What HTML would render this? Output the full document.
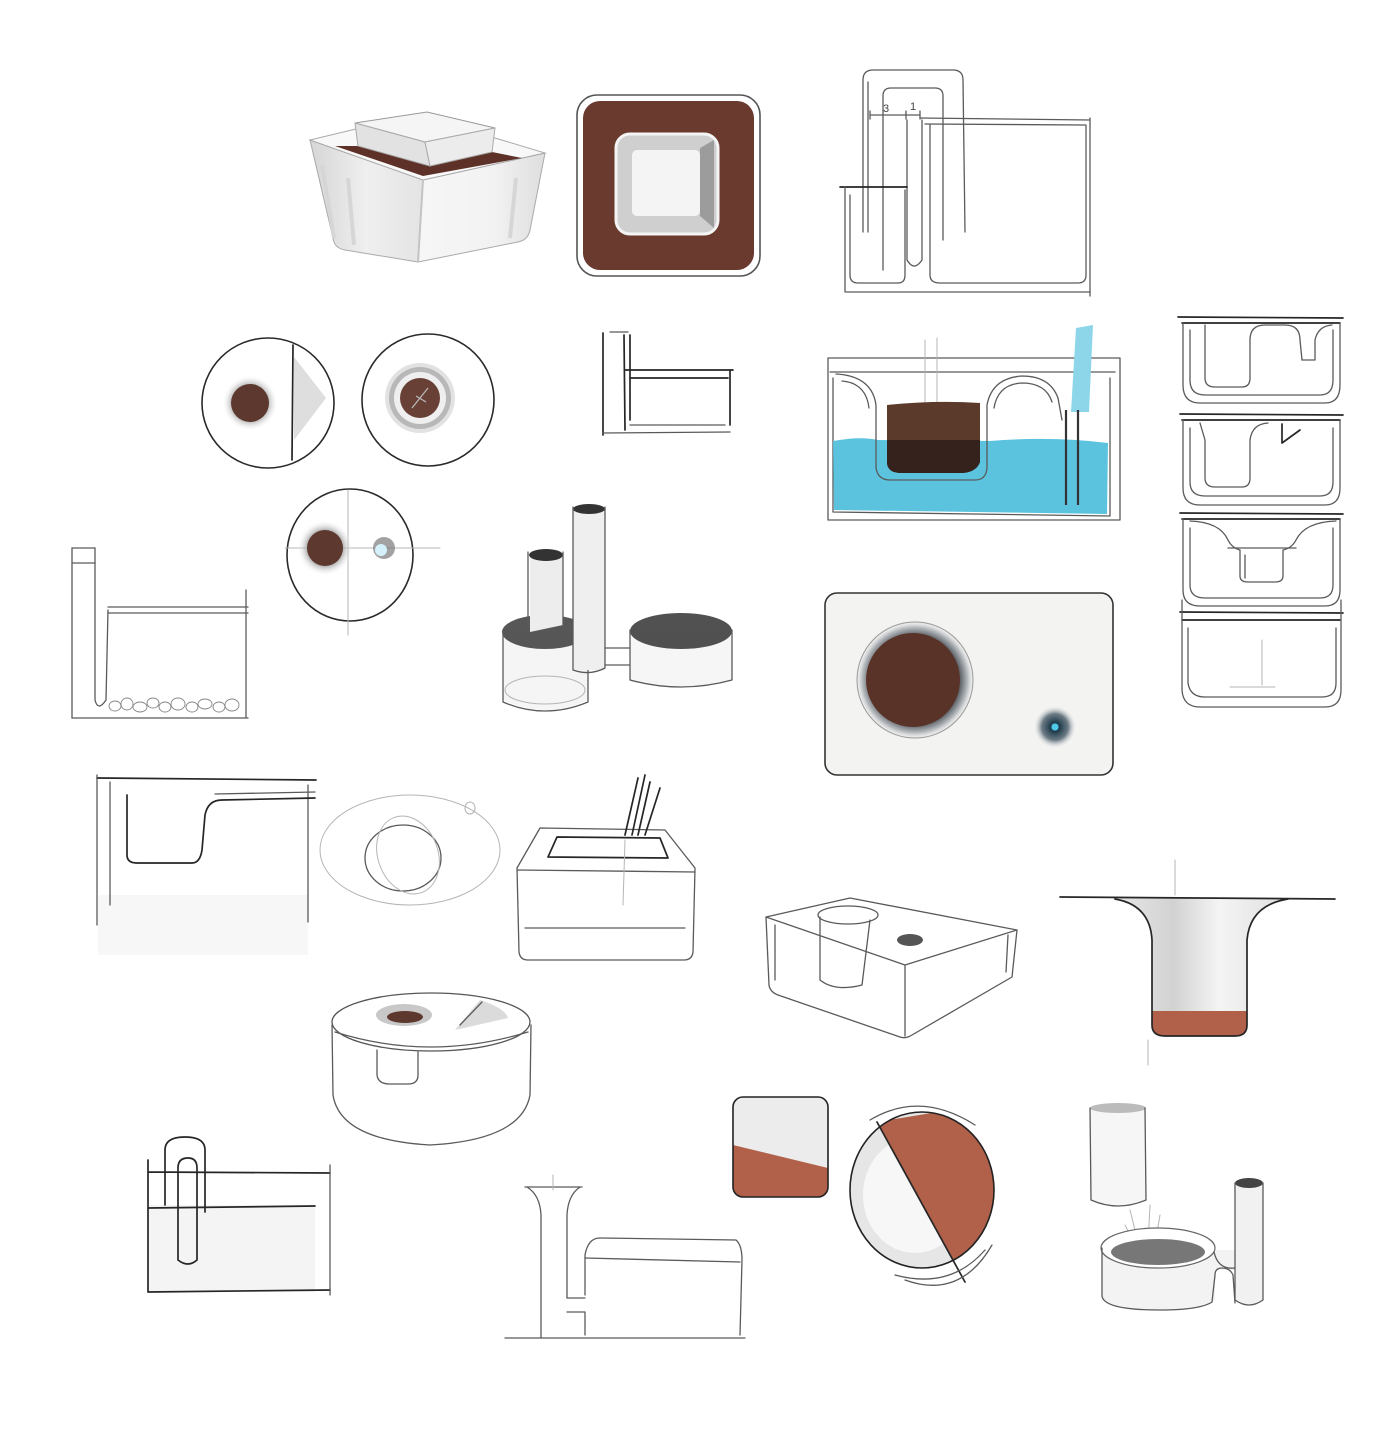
<!DOCTYPE html>
<html><head><meta charset="utf-8"><style>
html,body{margin:0;padding:0;background:#fff;}
svg{display:block;}
.p{stroke:#5a5a5a;stroke-width:1.3;fill:none;stroke-linecap:round;stroke-linejoin:round;}
.d{stroke:#262626;stroke-width:1.7;fill:none;stroke-linecap:round;stroke-linejoin:round;}
.f{stroke:#b5b5b5;stroke-width:1;fill:none;stroke-linecap:round;}
.t{font-family:"Liberation Sans",sans-serif;font-size:11px;fill:#444;}
</style></head><body>
<svg width="1400" height="1445" viewBox="0 0 1400 1445" xmlns="http://www.w3.org/2000/svg">
<defs>
<radialGradient id="halo" cx="0.5" cy="0.5" r="0.5"><stop offset="0.55" stop-color="#8a8a8a"/><stop offset="1" stop-color="#fff" stop-opacity="0"/></radialGradient>
<radialGradient id="halo2" cx="0.5" cy="0.5" r="0.5"><stop offset="0.75" stop-color="#5a6066"/><stop offset="0.88" stop-color="#b8bcc0"/><stop offset="1" stop-color="#f3f3f1" stop-opacity="0"/></radialGradient>
<radialGradient id="dot" cx="0.5" cy="0.5" r="0.5"><stop offset="0" stop-color="#3fc6ea"/><stop offset="0.2" stop-color="#1e3a4a"/><stop offset="0.6" stop-color="#6d7c86"/><stop offset="1" stop-color="#fff" stop-opacity="0"/></radialGradient>
<linearGradient id="stem" x1="0" x2="1"><stop offset="0" stop-color="#e9e9e9"/><stop offset="0.35" stop-color="#d2d2d2"/><stop offset="0.6" stop-color="#f4f4f4"/><stop offset="1" stop-color="#dedede"/></linearGradient>
<linearGradient id="face" x1="0" x2="1"><stop offset="0" stop-color="#d6d6d6"/><stop offset="0.5" stop-color="#efefef"/><stop offset="1" stop-color="#e4e4e4"/></linearGradient>
<linearGradient id="face2" x1="0" x2="1"><stop offset="0" stop-color="#f6f6f6"/><stop offset="0.6" stop-color="#f2f2f2"/><stop offset="1" stop-color="#dedede"/></linearGradient>
<clipPath id="cc"><ellipse cx="922" cy="1190" rx="72" ry="78"/></clipPath>
</defs>
<rect width="1400" height="1445" fill="#fff"/>

<!-- 1 perspective box -->
<path d="M310,140 L423,180 L418,262 L345,250 Q334,248 333,238 Z" fill="url(#face)" stroke="#aaa"/>
<path d="M423,180 L545,153 L530,230 Q528,240 518,242 L418,262 Z" fill="url(#face2)" stroke="#aaa"/>
<path d="M310,140 L360,128 L495,138 L545,153 L423,180 Z" fill="#f8f8f8" stroke="#aaa"/>
<path d="M335,146 L358,146 L430,166 L492,152 L522,158 L423,176 Z" fill="#5e3128"/>
<path d="M355,123 L427,112 L495,128 L425,142 Z" fill="#f5f5f5" stroke="#999"/>
<path d="M355,123 L425,142 L430,166 L358,146 Z" fill="#e2e2e2" stroke="#aaa"/>
<path d="M425,142 L495,128 L492,152 L430,166 Z" fill="#ececec" stroke="#aaa"/>
<path d="M322,165 L334,238 M348,178 L354,245 M516,178 L510,238" stroke="#d6d6d6" stroke-width="4" fill="none"/>
<path d="M423,180 L418,262" stroke="#c4c4c4" stroke-width="2"/>

<!-- 2 brown square -->
<rect x="577" y="95" width="183" height="181" rx="20" fill="#fff" stroke="#555" stroke-width="1.6"/>
<rect x="583" y="101" width="171" height="169" rx="17" fill="#6b3a2f"/>
<rect x="616" y="134" width="102" height="100" rx="14" fill="#cfcfcf" stroke="#f4f4f4" stroke-width="3"/>
<path d="M700,148 L714,140 L714,228 L700,216 Z" fill="#9c9c9c"/>
<rect x="632" y="150" width="68" height="66" rx="5" fill="#f4f4f4"/>

<!-- 3 top right siphon -->
<path class="p" d="M863,232 L863,80 Q863,70 873,70 L953,70 Q963,70 963,80 L965,232"/>
<path class="p" d="M868,232 L868,82"/>
<path class="p" d="M883,270 L883,96 Q883,88 891,88 L935,88 Q943,88 943,96 L943,240"/>
<path class="p" d="M907,120 L907,260 Q914,272 922,260 L922,120"/>
<path class="p" d="M920,118 L1090,120 M925,124 L1085,125"/>
<path class="p" d="M930,125 L930,275 Q930,283 940,283 L1078,283 Q1086,283 1086,275 L1086,125"/>
<path class="p" d="M1090,118 L1090,296"/>
<path class="d" d="M840,187 L907,187"/>
<path class="p" d="M845,187 L845,292 M850,195 L850,275 Q850,283 858,283 L898,283 Q905,283 905,275 L905,190"/>
<path class="p" d="M846,292 L1090,292"/>
<path class="p" d="M870,115 L920,115 M870,111 L870,119 M906,111 L906,119 M920,111 L920,119" stroke-width="1"/>
<text class="t" x="883" y="112">3</text>
<text class="t" x="910" y="110">1</text>

<!-- row 2 circles -->
<ellipse cx="268" cy="403" rx="66" ry="65" fill="#fff" stroke="#2a2a2a" stroke-width="1.6"/>
<circle cx="250" cy="403" r="28" fill="url(#halo)"/>
<circle cx="250" cy="403" r="19" fill="#5d382e"/>
<path d="M294,357 L326,398 L294,440 Z" fill="#d6d6d6" opacity="0.8"/>
<path class="d" d="M293,345 L292,460"/>

<ellipse cx="428" cy="400" rx="66" ry="66" fill="#fff" stroke="#2a2a2a" stroke-width="1.6"/>
<circle cx="420" cy="398" r="35" fill="#e2e2e2"/>
<circle cx="420" cy="398" r="31" fill="#b8b8b8"/>
<circle cx="420" cy="398" r="26" fill="#efefef"/>
<circle cx="420" cy="398" r="20" fill="#684036"/>
<path d="M412,408 L428,388 M416,396 L426,402" stroke="#bbb" stroke-width="1.2"/>

<ellipse cx="350" cy="555" rx="63" ry="66" fill="#fff" stroke="#2a2a2a" stroke-width="1.6"/>
<path class="f" d="M285,548 L440,548 M348,490 L348,635"/>
<circle cx="325" cy="548" r="28" fill="url(#halo)"/>
<circle cx="325" cy="548" r="18" fill="#5d382e"/>
<circle cx="384" cy="548" r="11" fill="#7a7a7a" opacity="0.7"/>
<circle cx="381" cy="550" r="6" fill="#d4f1fb"/>

<!-- small L sketch -->
<path class="d" d="M603,333 L603,435 M624,335 L625,430 M630,335 L630,420"/>
<path class="d" d="M625,370 L733,370 M630,378 L728,378 M730,370 L730,425"/>
<path class="p" d="M603,433 L730,432 M630,425 L725,425 M610,332 L628,332"/>

<!-- left lower tube + pebbles -->
<path class="p" d="M72,548 L95,548 M72,563 L95,563"/>
<path class="p" d="M72,548 L72,718 M95,548 L95,700 Q98,712 106,700 L108,610"/>
<path class="p" d="M108,607 L248,607 M108,613 L248,613 M246,590 L246,718 M72,718 L248,718"/>
<g fill="none" stroke="#888" stroke-width="0.9">
<ellipse cx="115" cy="706" rx="6" ry="5"/><ellipse cx="127" cy="704" rx="6" ry="6"/><ellipse cx="140" cy="707" rx="7" ry="5"/><ellipse cx="153" cy="703" rx="6" ry="5"/><ellipse cx="165" cy="707" rx="6" ry="5"/><ellipse cx="178" cy="704" rx="7" ry="6"/><ellipse cx="192" cy="707" rx="6" ry="5"/><ellipse cx="205" cy="704" rx="7" ry="5"/><ellipse cx="219" cy="707" rx="6" ry="5"/><ellipse cx="232" cy="705" rx="7" ry="6"/>
</g>

<!-- tubes / cylinders -->
<path d="M503,632 L503,700 Q545,720 588,700 L588,632 Z" fill="#f5f5f5"/>
<ellipse cx="545" cy="632" rx="43" ry="17" fill="#3a3a3a" opacity="0.85"/>
<path class="p" d="M503,632 L503,702 Q545,720 588,702 L588,632"/>
<ellipse class="f" cx="545" cy="690" rx="40" ry="14"/>
<path d="M530,555 L530,632 L563,625 L563,555 Z" fill="#ededed"/>
<ellipse cx="546" cy="555" rx="17" ry="6" fill="#333"/>
<path class="p" d="M528,552 L528,630 M563,552 L563,630"/>
<path d="M573,508 L573,670 L605,670 L605,508 Z" fill="#efefef"/>
<ellipse cx="589" cy="509" rx="16" ry="5" fill="#333"/>
<path class="p" d="M573,507 L573,670 M605,507 L605,668 M573,670 Q590,676 605,668"/>
<path class="p" d="M605,648 L630,648 M605,665 L630,665"/>
<path d="M630,630 L630,680 Q681,694 732,680 L732,630 Z" fill="#f6f6f6"/>
<ellipse cx="681" cy="631" rx="51" ry="18" fill="#333" opacity="0.85"/>
<path class="p" d="M630,630 L630,680 Q681,694 732,680 L732,630"/>

<!-- blue water sketch -->
<path class="p" d="M828,358 L1120,358 L1120,520 L828,520 Z"/>
<path class="p" d="M830,372 L1115,372 M833,378 L833,512 L1110,516 L1110,378"/>
<path d="M833,441 Q860,436 878,440 L990,441 Q1050,436 1108,443 L1107,514 L834,510 Z" fill="#5cc3df"/>
<path class="f" d="M925,340 L925,408 M937,338 L937,408"/>
<path d="M887,405 Q935,400 980,403 L980,462 Q976,473 960,473 L902,473 Q887,473 887,462 Z" fill="#5b3a2c"/>
<path d="M887,440 L980,440 L980,462 Q976,473 960,473 L902,473 Q887,473 887,462 Z" fill="#35221d"/>
<path class="p" d="M836,374 Q872,376 876,405 L876,468 Q878,480 890,480 L975,480 Q986,480 987,468 L987,405 Q992,378 1022,376 Q1050,376 1058,398 L1062,420"/>
<path class="p" d="M842,381 Q866,383 869,408 M994,408 Q998,384 1022,383 Q1046,383 1052,402"/>
<path d="M1076,328 L1093,325 L1089,412 L1071,412 Z" fill="#8dd6ea"/>
<path d="M1066,410 L1066,505 M1078,410 L1078,505" stroke="#333" stroke-width="2.2"/>

<!-- top view card -->
<rect x="825" y="593" width="288" height="182" rx="12" fill="#f3f3f1" stroke="#333" stroke-width="1.6"/>
<circle cx="915" cy="680" r="60" fill="url(#halo2)"/>
<circle cx="915" cy="680" r="58" fill="none" stroke="#999" stroke-width="1"/>
<circle cx="913" cy="680" r="47" fill="#5a3328"/>
<circle cx="1055" cy="727" r="22" fill="url(#dot)"/>
<circle cx="1055" cy="727" r="3.5" fill="#4fcaea"/>

<!-- right stack -->
<g>
<path class="d" d="M1178,317 L1343,318 M1182,323 L1340,323"/>
<path class="p" d="M1183,323 L1183,385 Q1183,403 1200,403 L1325,403 Q1340,403 1340,385 L1340,323"/>
<path class="p" d="M1190,330 L1190,380 Q1190,395 1205,395 L1320,395 Q1333,395 1333,380 L1333,330"/>
<path class="p" d="M1205,325 L1205,378 Q1205,387 1215,387 L1242,387 Q1250,387 1250,378 L1250,340 Q1250,325 1265,325 L1285,325 Q1300,325 1300,340 L1302,360 L1315,360 L1315,340 Q1318,326 1332,325"/>
<path class="d" d="M1180,414 L1343,415 M1182,420 L1340,420"/>
<path class="p" d="M1183,420 L1183,488 Q1183,505 1200,505 L1325,505 Q1340,505 1340,488 L1340,420"/>
<path class="p" d="M1190,428 L1190,482 Q1190,496 1205,496 L1320,496 Q1333,496 1333,482 L1333,428"/>
<path class="p" d="M1200,423 L1205,440 L1205,478 Q1205,487 1215,487 L1242,487 Q1250,487 1250,478 L1250,440 Q1252,424 1268,423"/>
<path class="d" d="M1282,424 L1282,443 L1300,430"/>
<path class="d" d="M1180,513 L1343,514 M1182,519 L1340,519"/>
<path class="p" d="M1183,519 L1183,590 Q1183,606 1200,606 L1325,606 Q1340,606 1340,590 L1340,519"/>
<path class="p" d="M1190,528 L1190,585 Q1190,598 1205,598 L1320,598 Q1333,598 1333,585 L1333,528"/>
<path class="p" d="M1190,521 Q1220,522 1228,540 Q1232,548 1240,550 L1240,576 Q1240,582 1248,582 L1275,582 Q1283,582 1283,576 L1283,550 Q1292,548 1296,540 Q1305,522 1336,521"/>
<path class="p" d="M1228,548 L1296,548 M1245,555 L1245,578"/>
<path class="d" d="M1180,612 L1343,613 M1182,620 L1340,620"/>
<path class="p" d="M1182,600 L1182,690 Q1183,707 1200,707 L1325,707 Q1341,707 1341,690 L1341,600"/>
<path class="p" d="M1188,628 L1188,683 Q1190,697 1205,697 L1322,697 Q1336,697 1336,683 L1336,628"/>
<path class="f" d="M1262,640 L1262,685 M1230,687 L1275,687"/>
</g>

<!-- row 4 left cup section -->
<rect x="98" y="895" width="210" height="60" fill="#f5f5f5" opacity="0.8"/>
<path class="d" d="M97,778 L316,780"/>
<path class="p" d="M97,775 L97,925 M110,782 L110,905 M308,785 L308,922"/>
<path class="d" d="M127,795 L127,855 Q127,863 137,863 L192,863 Q200,863 202,850 L205,815 Q208,800 222,800 L315,798"/>
<path class="p" d="M215,794 L315,792"/>

<!-- scribble circles -->
<ellipse class="f" cx="410" cy="850" rx="90" ry="55"/>
<ellipse class="p" cx="403" cy="858" rx="38" ry="33" stroke="#888"/>
<ellipse class="f" cx="408" cy="855" rx="30" ry="40" transform="rotate(-20 408 855)"/>
<ellipse class="f" cx="470" cy="808" rx="5" ry="6"/>

<!-- box with grass -->
<path class="p" d="M540,828 L665,830 L695,868 L693,952 Q692,960 684,960 L528,960 Q520,960 519,952 L517,868 Z"/>
<path class="d" d="M557,837 L660,838 L668,858 L548,857 Z"/>
<path class="p" d="M517,870 L695,872 M525,928 L685,928"/>
<path class="d" d="M625,835 L638,778 M632,835 L645,775 M638,835 L650,782 M645,835 L660,788"/>
<path class="f" d="M625,840 L623,905"/>

<!-- perspective box -->
<path class="p" d="M766,917 L850,898 L1017,930 L905,965 Z"/>
<path class="p" d="M766,917 L769,985 Q770,992 778,995 L900,1037 Q906,1039 912,1035 L1012,977 L1017,930"/>
<path class="p" d="M905,965 L905,1036 M775,925 L775,980 M1008,935 L1006,972"/>
<ellipse class="p" cx="848" cy="915" rx="30" ry="9"/>
<path class="p" d="M820,917 L820,980 Q835,992 862,985 L870,920"/>
<ellipse cx="910" cy="940" rx="13" ry="6" fill="#555"/>

<!-- funnel -->
<path d="M1110,898 Q1150,902 1152,940 L1152,1025 Q1152,1036 1165,1036 L1235,1036 Q1247,1036 1247,1025 L1247,940 Q1250,902 1292,898 Z" fill="url(#stem)"/>
<path d="M1152,1011 L1247,1011 L1247,1025 Q1247,1036 1235,1036 L1165,1036 Q1152,1036 1152,1025 Z" fill="#b1614a"/>
<path class="d" d="M1060,897 L1335,899"/>
<path class="d" d="M1115,899 Q1150,905 1152,940 L1152,1025 Q1152,1036 1165,1036 L1235,1036 Q1247,1036 1247,1025 L1247,940 Q1250,905 1288,899"/>
<path class="f" d="M1175,860 L1175,895 M1148,1040 L1148,1065"/>

<!-- round container -->
<path class="p" d="M332,1025 L333,1095 Q340,1140 430,1145 Q522,1140 530,1095 L531,1025"/>
<ellipse cx="431" cy="1022" rx="99" ry="29" fill="#fff" stroke="#555" stroke-width="1.3"/>
<path class="p" d="M335,1032 Q430,1062 528,1032"/>
<path class="p" d="M377,1050 L377,1075 Q378,1084 390,1084 L408,1084 Q418,1084 418,1075 L418,1052"/>
<ellipse cx="404" cy="1015" rx="28" ry="11" fill="#9a9a9a" opacity="0.55"/>
<ellipse cx="405" cy="1017" rx="18" ry="6" fill="#5d382e"/>
<path d="M455,1030 L480,1000 Q505,1008 508,1018 Z" fill="#ccc" opacity="0.7"/>
<path class="p" d="M460,1025 L482,1002"/>

<!-- bottom left siphon box -->
<rect x="149" y="1205" width="166" height="87" fill="#f4f4f4"/>
<path class="d" d="M148,1160 L148,1292 M148,1172 L330,1173 M148,1208 L315,1206 M148,1292 L330,1290"/>
<path class="p" d="M330,1165 L330,1295"/>
<path class="d" d="M165,1205 L165,1150 Q165,1137 185,1137 Q205,1137 205,1150 L205,1212"/>
<path class="d" d="M178,1260 L178,1168 Q178,1158 188,1158 Q197,1158 197,1168 L197,1260 Q188,1268 178,1260"/>

<!-- vase + box -->
<path class="p" d="M525,1187 L582,1187 M527,1187 Q540,1195 541,1215 L541,1338 M580,1187 Q568,1195 567,1215 L567,1298"/>
<path class="p" d="M567,1298 L585,1298 M567,1312 L585,1312 L585,1335"/>
<path class="p" d="M585,1295 L585,1255 Q588,1238 600,1238 L736,1240 Q742,1245 742,1260 L740,1335"/>
<path class="p" d="M585,1258 L740,1262"/>
<path class="p" d="M505,1338 L745,1338"/>
<path class="f" d="M553,1175 L553,1190"/>

<!-- copper tile -->
<rect x="733" y="1097" width="95" height="100" rx="10" fill="#ececec"/>
<path d="M733,1145 L828,1168 L828,1187 Q828,1197 818,1197 L743,1197 Q733,1197 733,1187 Z" fill="#b1614a"/>
<rect x="733" y="1097" width="95" height="100" rx="10" fill="none" stroke="#222" stroke-width="1.6"/>

<!-- copper circle -->
<ellipse cx="922" cy="1190" rx="72" ry="78" fill="#e6e6e6"/>
<ellipse cx="915" cy="1195" rx="52" ry="58" fill="#f7f7f7"/>
<path d="M877,1122 L965,1282 L1010,1282 L1010,1100 Z" fill="#b1614a" clip-path="url(#cc)"/>
<path class="d" d="M877,1122 L965,1282"/>
<ellipse cx="922" cy="1190" rx="72" ry="78" fill="none" stroke="#222" stroke-width="1.6"/>
<path class="p" d="M870,1120 Q920,1090 975,1125 M895,1275 Q950,1290 985,1250 M905,1280 Q960,1300 992,1245"/>

<!-- cylinder + bowl + tube -->
<path d="M1090,1108 L1090,1200 Q1118,1212 1146,1200 L1146,1108 Z" fill="#f6f6f6"/>
<ellipse cx="1118" cy="1108" rx="28" ry="5" fill="#bbb"/>
<path class="p" d="M1090,1108 L1091,1200 Q1118,1212 1146,1200 L1145,1108"/>
<path class="f" d="M1130,1210 L1140,1250 M1150,1205 L1148,1245 M1160,1215 L1155,1245 M1125,1225 L1140,1255"/>
<path d="M1102,1248 L1102,1296 Q1104,1310 1160,1310 Q1200,1310 1215,1300 L1215,1270 L1235,1270 L1235,1250 L1215,1250 Z" fill="#f3f3f3"/>
<ellipse cx="1158" cy="1248" rx="57" ry="20" fill="#fff" stroke="#666" stroke-width="1.2"/>
<ellipse cx="1158" cy="1252" rx="47" ry="13" fill="#555" opacity="0.8"/>
<path class="p" d="M1102,1248 L1102,1296 Q1104,1310 1160,1310 Q1200,1310 1212,1302 L1215,1275 Q1215,1268 1222,1268 Q1230,1268 1233,1275 L1235,1303"/>
<path class="p" d="M1214,1252 Q1218,1270 1235,1268"/>
<path d="M1235,1183 L1235,1300 Q1249,1310 1263,1300 L1263,1183 Z" fill="#f1f1f1"/>
<ellipse cx="1249" cy="1183" rx="14" ry="5" fill="#444"/>
<path class="p" d="M1235,1183 L1235,1300 Q1249,1310 1263,1300 L1263,1183"/>
</svg>
</body></html>
